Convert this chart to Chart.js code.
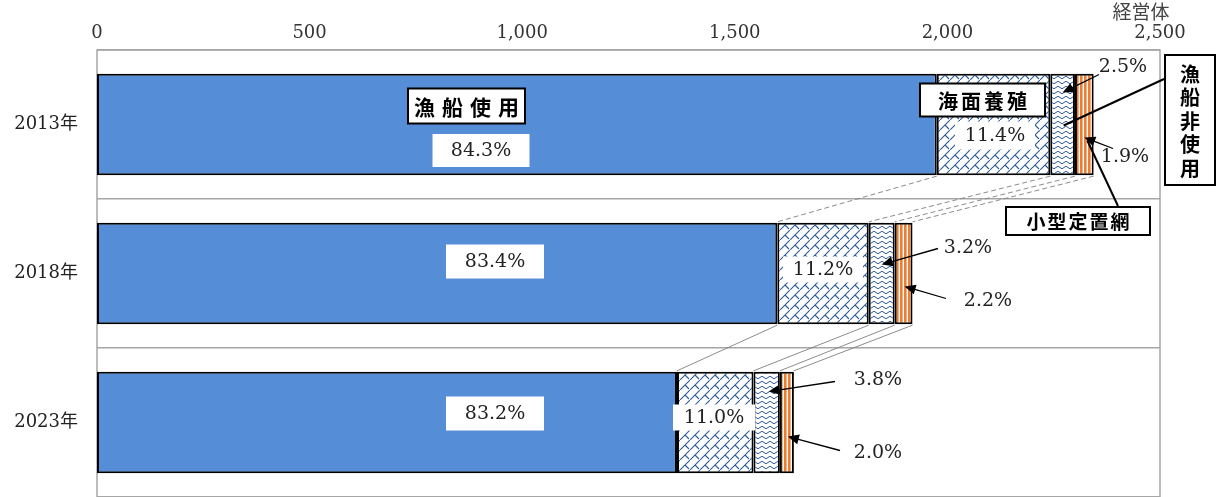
<!DOCTYPE html>
<html lang="ja">
<head>
<meta charset="utf-8">
<script src="https://cdn.jsdelivr.net/npm/chart.js@4.4.1/dist/chart.umd.min.js"></script>
<style>
  html, body { margin: 0; padding: 0; background: #fff; overflow: hidden; }
  #wrap { width: 1218px; height: 497px; position: relative; }
</style>
</head>
<body>
<div id="wrap"><canvas id="chart"></canvas></div>
<script>
// ---- data ----
const years = ['2013年', '2018年', '2023年'];
const fishingBoat = [1975, 1600, 1364];   // 漁船使用
const aquaculture = [267, 215, 180];      // 海面養殖
const noBoat = [58, 61, 62];              // 漁船非使用
const setNet = [44, 42, 33];              // 小型定置網
const xTicks = [0, 500, 1000, 1500, 2000, 2500];
const unitLabel = '経営体';

const SERIF = "'DejaVu Serif', 'Noto Sans CJK JP', serif";
const SANS = "'Noto Sans CJK JP', 'Noto Sans', sans-serif";
const BLUE = '#558DD6';
const LINE_BLUE = '#2E5C9A';
const ORANGE = '#ED7D31';

// ---- fill patterns ----
function makeTile(w, h, draw) {
    const c = document.createElement('canvas');
    c.width = w; c.height = h;
    const g = c.getContext('2d');
    draw(g, w, h);
    return g.createPattern(c, 'repeat');
}

const brickPattern = makeTile(10, 10, function (g, w, h) {
    g.fillStyle = '#fff';
    g.fillRect(0, 0, w, h);
    g.strokeStyle = LINE_BLUE;
    g.lineWidth = 1.1;
    g.beginPath();
    g.moveTo(-1, 11); g.lineTo(11, -1);
    g.moveTo(5, 5); g.lineTo(9, 9);
    g.stroke();
});

const wavePattern = makeTile(8, 5, function (g, w, h) {
    g.fillStyle = '#fff';
    g.fillRect(0, 0, w, h);
    g.strokeStyle = LINE_BLUE;
    g.lineWidth = 1;
    g.beginPath();
    g.moveTo(0, 2.5);
    g.quadraticCurveTo(2, 0, 4, 2.5);
    g.quadraticCurveTo(6, 5, 8, 2.5);
    g.stroke();
});

const stripePattern = makeTile(4, 4, function (g, w, h) {
    g.fillStyle = '#fff';
    g.fillRect(0, 0, w, h);
    g.fillStyle = ORANGE;
    g.fillRect(0, 0, 2.6, h);
});

// ---- helpers for the annotation layer ----
function pct(values, i) {
    const total = fishingBoat[i] + aquaculture[i] + noBoat[i] + setNet[i];
    return (values[i] / total * 100).toFixed(1) + '%';
}

function whiteBox(ctx, text, cx, cy, w, h) {
    ctx.fillStyle = '#fff';
    ctx.fillRect(cx - w / 2, cy - h / 2, w, h);
    ctx.fillStyle = '#222';
    ctx.font = '19px ' + SERIF;
    ctx.textAlign = 'center';
    ctx.textBaseline = 'middle';
    ctx.fillText(text, cx, cy + 1);
}

function nameBox(ctx, text, left, top, w, h, size, spacing) {
    ctx.fillStyle = '#fff';
    ctx.fillRect(left, top, w, h);
    ctx.strokeStyle = '#000';
    ctx.lineWidth = 2;
    ctx.strokeRect(left, top, w, h);
    ctx.fillStyle = '#000';
    ctx.font = 'bold ' + size + 'px ' + SANS;
    ctx.textAlign = 'center';
    ctx.textBaseline = 'middle';
    const chars = Array.from(text);
    const step = size + spacing;
    const start = left + w / 2 - step * (chars.length - 1) / 2;
    chars.forEach(function (ch, k) {
        ctx.fillText(ch, start + k * step, top + h / 2 + 1);
    });
}

function plainText(ctx, text, cx, cy) {
    ctx.fillStyle = '#222';
    ctx.font = '19px ' + SERIF;
    ctx.textAlign = 'center';
    ctx.textBaseline = 'middle';
    ctx.fillText(text, cx, cy);
}

function arrow(ctx, x1, y1, x2, y2, head, width) {
    ctx.strokeStyle = '#000';
    ctx.fillStyle = '#000';
    ctx.lineWidth = width || 1.3;
    const ang = Math.atan2(y2 - y1, x2 - x1);
    const ex = head ? x2 - Math.cos(ang) * 8 : x2;
    const ey = head ? y2 - Math.sin(ang) * 8 : y2;
    ctx.beginPath();
    ctx.moveTo(x1, y1);
    ctx.lineTo(ex, ey);
    ctx.stroke();
    if (head) {
        ctx.beginPath();
        ctx.moveTo(x2, y2);
        ctx.lineTo(x2 - Math.cos(ang) * 11 + Math.sin(ang) * 5, y2 - Math.sin(ang) * 11 - Math.cos(ang) * 5);
        ctx.lineTo(x2 - Math.cos(ang) * 11 - Math.sin(ang) * 5, y2 - Math.sin(ang) * 11 + Math.cos(ang) * 5);
        ctx.closePath();
        ctx.fill();
    }
}

// frame + connector lines + labels
const overlayPlugin = {
    id: 'overlay',
    beforeDatasetsDraw(chart) {
        const ctx = chart.ctx;
        const a = chart.chartArea;
        ctx.save();
        ctx.strokeStyle = '#a6a6a6';
        ctx.lineWidth = 1.5;
        ctx.beginPath();
        ctx.moveTo(a.left, a.bottom + 2);
        ctx.lineTo(a.left, a.top);
        ctx.lineTo(a.right, a.top);
        ctx.lineTo(a.right, a.bottom + 2);
        ctx.stroke();
        ctx.restore();
    },
    afterDatasetsDraw(chart) {
        const ctx = chart.ctx;
        const xs = chart.scales.x;
        const ys = chart.scales.y;
        const X = v => xs.getPixelForValue(v);
        const Y = i => ys.getPixelForValue(i);
        const half = chart.getDatasetMeta(0).data[0].height / 2;

        const b0 = fishingBoat.slice();
        const b1 = b0.map((v, i) => v + aquaculture[i]);
        const b2 = b1.map((v, i) => v + noBoat[i]);
        const b3 = b2.map((v, i) => v + setNet[i]);
        const bounds = [b0, b1, b2, b3];

        ctx.save();
        // series lines between bars
        for (let i = 0; i < years.length - 1; i++) {
            ctx.strokeStyle = '#7f7f7f';
            ctx.lineWidth = 0.9;
            ctx.setLineDash(i === 0 ? [5, 3] : []);
            bounds.forEach(function (b) {
                ctx.beginPath();
                ctx.moveTo(X(b[i]), Y(i) + half + 1);
                ctx.lineTo(X(b[i + 1]), Y(i + 1) - half - 1);
                ctx.stroke();
            });
        }
        ctx.setLineDash([]);

        const midNo = i => X(b1[i] + noBoat[i] / 2);
        const midNet = i => X(b2[i] + setNet[i] / 2);

        // 2013
        let y0 = Y(0);
        nameBox(ctx, '漁船使用', 408, y0 - 36, 117, 35, 21, 7);
        whiteBox(ctx, pct(fishingBoat, 0), 481, y0 + 26, 97, 33);
        nameBox(ctx, '海面養殖', 920, y0 - 41, 125, 33, 20, 3);
        whiteBox(ctx, pct(aquaculture, 0), 995, y0 + 11, 80, 28);
        plainText(ctx, pct(noBoat, 0), 1123, y0 - 57);
        arrow(ctx, 1099, y0 - 50, midNo(0), y0 - 32, true);
        plainText(ctx, pct(setNet, 0), 1125, y0 + 33);
        arrow(ctx, 1113, y0 + 24, midNet(0), y0 + 13, true);
        // 漁船非使用 vertical box
        ctx.fillStyle = '#fff';
        ctx.fillRect(1165, 55, 50, 130);
        ctx.strokeStyle = '#000';
        ctx.lineWidth = 2;
        ctx.strokeRect(1165, 55, 50, 130);
        ctx.fillStyle = '#000';
        ctx.font = 'bold 20px ' + SANS;
        ctx.textAlign = 'center';
        ctx.textBaseline = 'middle';
        Array.from('漁船非使用').forEach(function (ch, k) {
            ctx.fillText(ch, 1190, 74 + k * 23.5);
        });
        arrow(ctx, 1164, 79, midNo(0) + 1, y0 + 1, false, 2);
        nameBox(ctx, '小型定置網', 1006, 207, 144, 28, 19, 2);
        arrow(ctx, 1118, 206, midNet(0) + 3, y0 + 16, false, 2);

        // 2018
        let y1 = Y(1);
        whiteBox(ctx, pct(fishingBoat, 1), 495, y1 - 12, 98, 34);
        whiteBox(ctx, pct(aquaculture, 1), 823, y1 - 4, 80, 26);
        plainText(ctx, pct(noBoat, 1), 968, y1 - 25);
        arrow(ctx, 938, y1 - 25, midNo(1), y1 - 9, true);
        plainText(ctx, pct(setNet, 1), 988, y1 + 28);
        arrow(ctx, 946, y1 + 25, midNet(1) + 1, y1 + 13, true);

        // 2023
        let y2 = Y(2);
        whiteBox(ctx, pct(fishingBoat, 2), 495, y2 - 9, 98, 34);
        whiteBox(ctx, pct(aquaculture, 2), 714, y2 - 5, 82, 26);
        plainText(ctx, pct(noBoat, 2), 878, y2 - 42);
        arrow(ctx, 835, y2 - 41, midNo(2) + 2, y2 - 31, true);
        plainText(ctx, pct(setNet, 2), 878, y2 + 31);
        arrow(ctx, 840, y2 + 28, midNet(2) + 1, y2 + 14, true);

        // unit label
        ctx.fillStyle = '#444';
        ctx.font = '19px ' + SANS;
        ctx.textAlign = 'center';
        ctx.textBaseline = 'middle';
        ctx.fillText(unitLabel, 1141, 12);
        ctx.restore();
    }
};

function series(label, data, fill) {
    return {
        label: label,
        data: data,
        backgroundColor: fill,
        borderColor: '#000',
        borderWidth: 2,
        borderSkipped: false,
        barPercentage: 0.68,
        categoryPercentage: 1.0
    };
}

new Chart(document.getElementById('chart'), {
    type: 'bar',
    data: {
        labels: years,
        datasets: [
            series('漁船使用', fishingBoat, BLUE),
            series('海面養殖', aquaculture, brickPattern),
            series('漁船非使用', noBoat, wavePattern),
            series('小型定置網', setNet, stripePattern)
        ]
    },
    options: {
        indexAxis: 'y',
        responsive: true,
        maintainAspectRatio: false,
        animation: false,
        layout: { padding: { left: 0, right: 58, top: 0, bottom: 0 } },
        plugins: {
            legend: { display: false },
            tooltip: { enabled: false }
        },
        scales: {
            x: {
                position: 'top',
                stacked: true,
                min: 0,
                max: 2500,
                afterBuildTicks: function (scale) {
                    scale.ticks = xTicks.map(v => ({ value: v }));
                },
                afterFit: function (scale) { scale.height = 50; },
                grid: { display: false, drawTicks: false },
                border: { display: false },
                ticks: {
                    padding: 6,
                    color: '#333',
                    font: { family: SERIF, size: 18 },
                    callback: v => v.toLocaleString('en-US')
                }
            },
            y: {
                stacked: true,
                afterFit: function (scale) {
                    scale.width = 97;
                    scale.paddingTop = 0;
                    scale.paddingBottom = 0;
                },
                grid: { offset: true, color: '#a6a6a6', lineWidth: 1.5, drawTicks: false },
                border: { display: false },
                ticks: {
                    padding: 19,
                    color: '#222',
                    font: { family: SERIF, size: 18 }
                }
            }
        }
    },
    plugins: [overlayPlugin]
});
</script>
</body>
</html>
